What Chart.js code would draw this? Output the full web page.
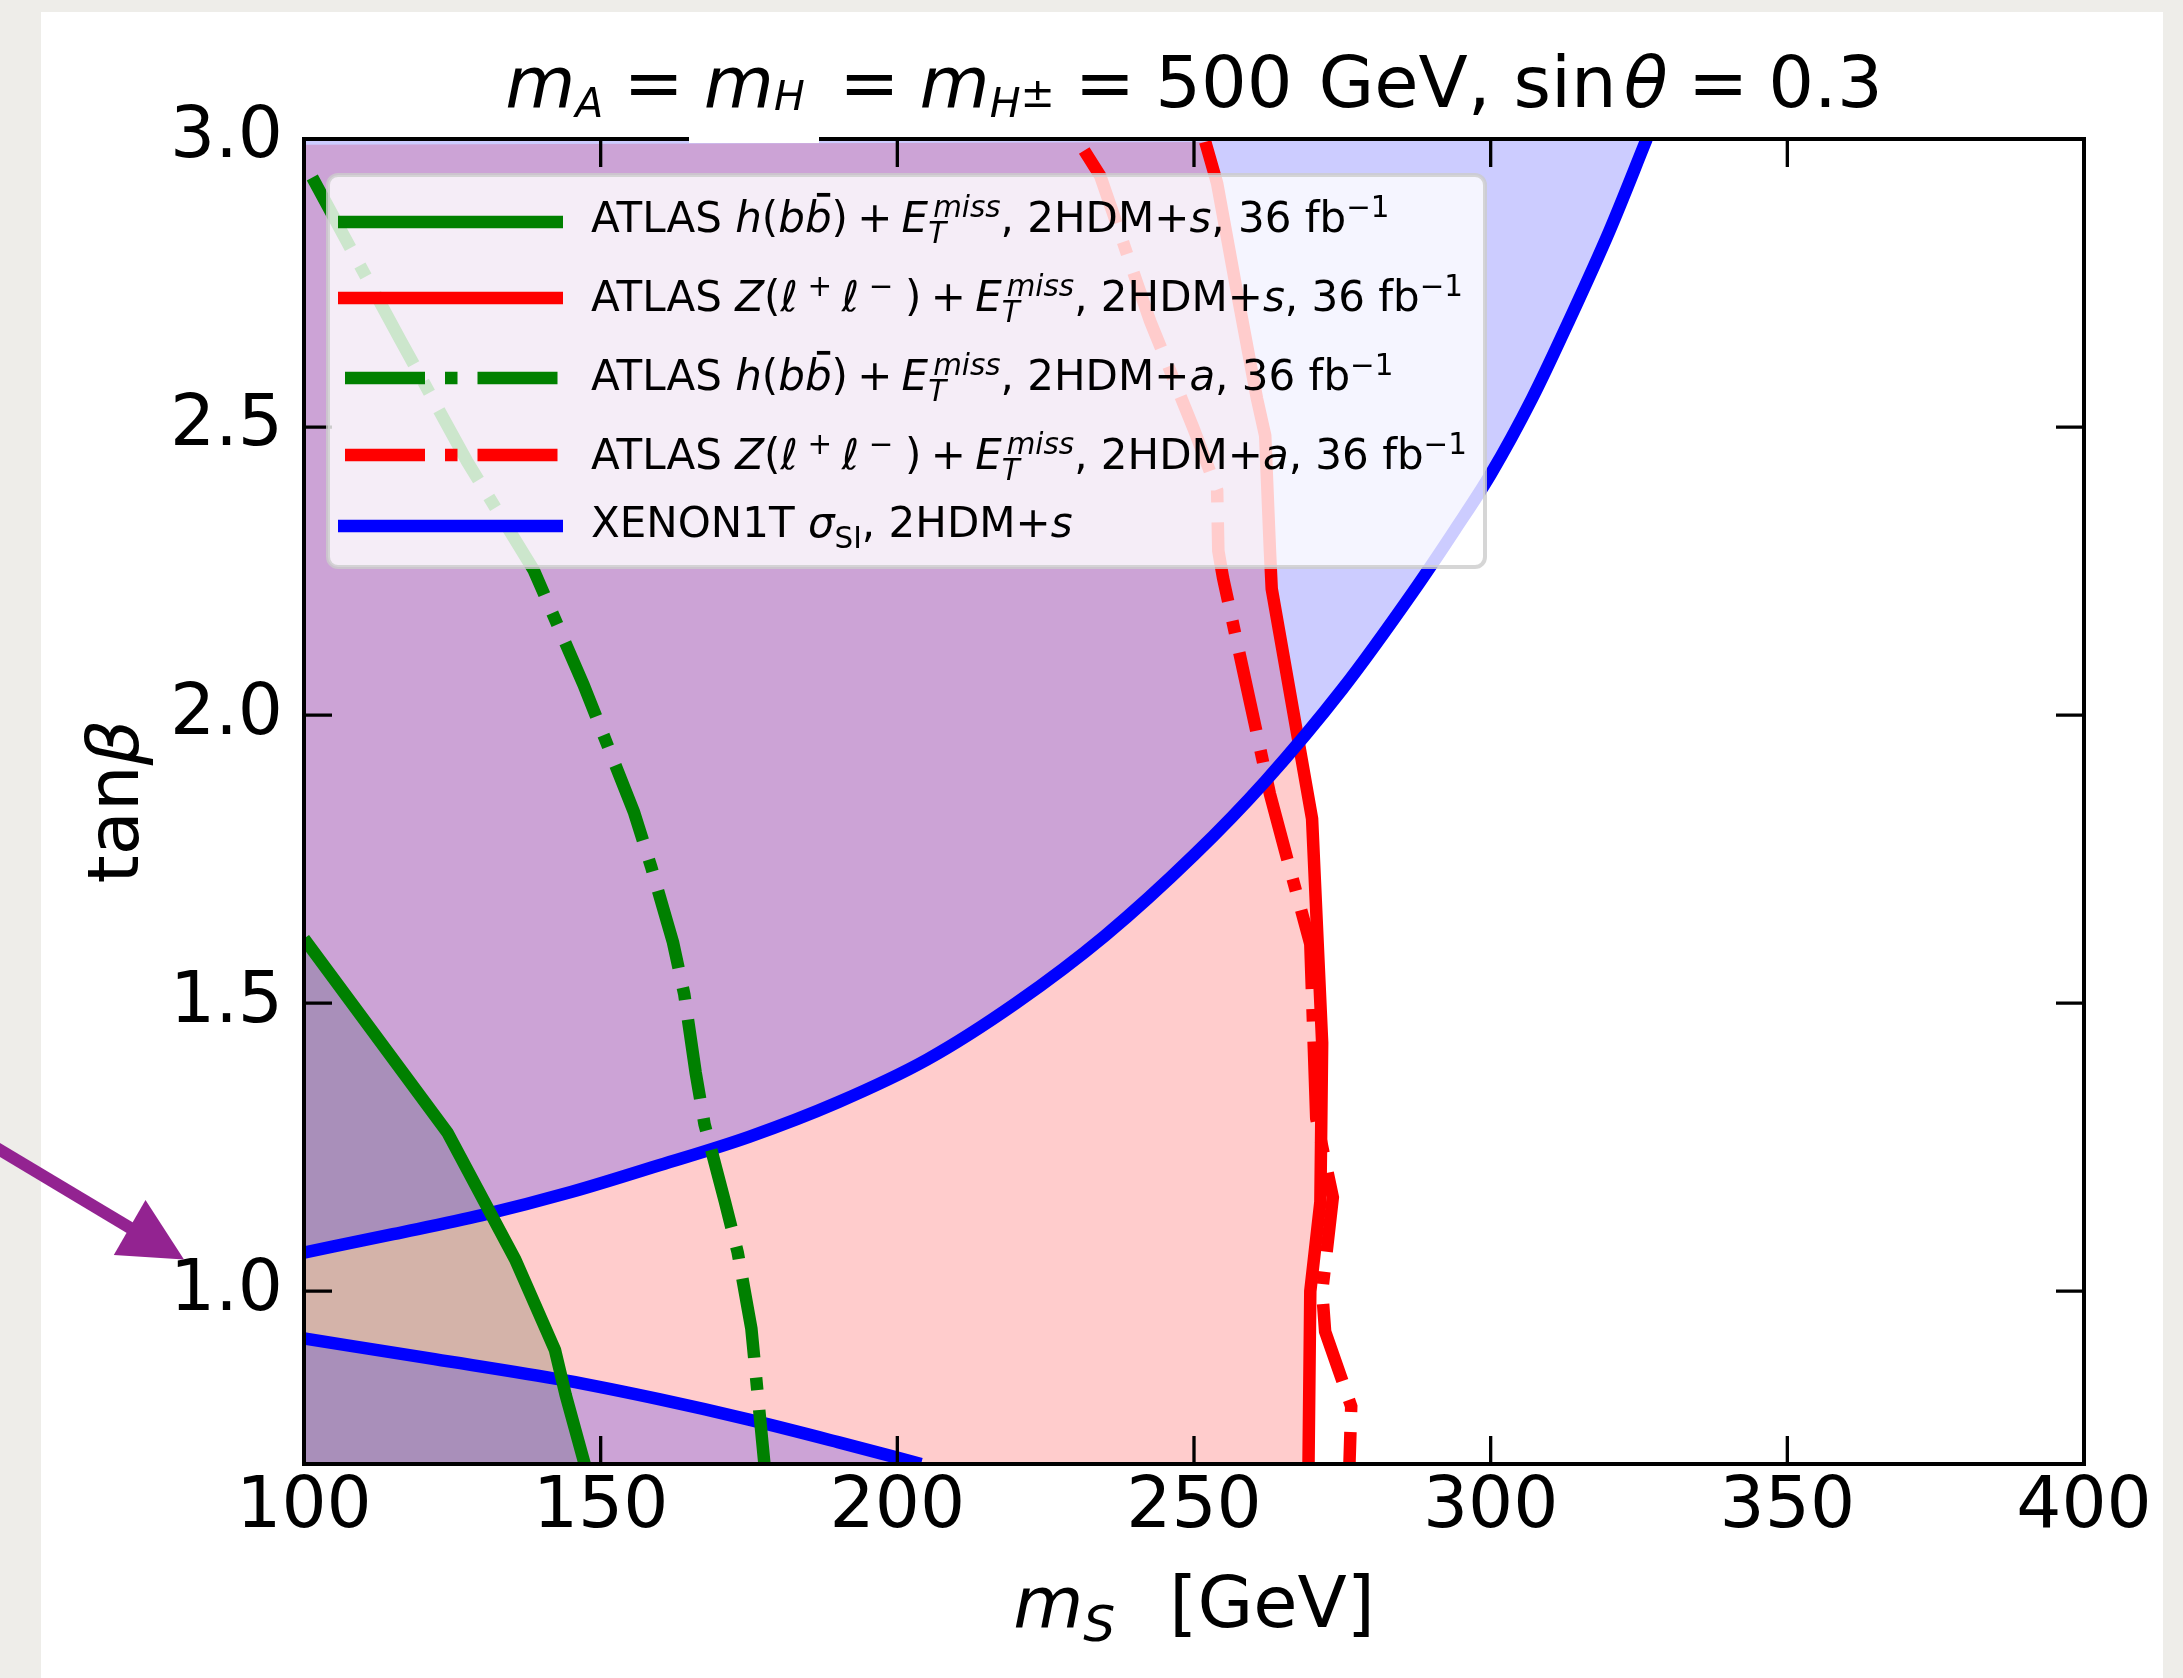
<!DOCTYPE html>
<html>
<head>
<meta charset="utf-8">
<title>tanβ vs m_S exclusion</title>
<script src="https://cdn.jsdelivr.net/npm/chart.js@4.4.1/dist/chart.umd.min.js"></script>
<style>
  html, body { margin: 0; padding: 0; overflow: hidden; background: #eeede9; }
  #plot { position: absolute; left: 0; top: 0; }
</style>
</head>
<body>
<canvas id="plot" width="2183" height="1678"></canvas>
<script>
// axis ranges and ticks
const msMin = 100, msMax = 400;
const tbMin = 0.7, tbMax = 3.0;
const xTicks = [100, 150, 200, 250, 300, 350, 400];
const yTicks = [1.0, 1.5, 2.0, 2.5, 3.0];

// ATLAS h(bb)+MET, 2HDM+s (excluded to the left)
const hbbS_ms = [100, 124.2, 135.6, 142.3, 144.1, 147.3];
const hbbS_tb = [1.612, 1.275, 1.055, 0.898, 0.82, 0.70];

// ATLAS Z(ll)+MET, 2HDM+s (excluded to the left)
const zllS_ms = [251.9, 253.9, 257.2, 260.6, 262.0, 262.8, 263.1, 269.9, 271.6, 271.3, 269.6, 269.3];
const zllS_tb = [2.995, 2.923, 2.737, 2.55, 2.485, 2.285, 2.219, 1.82, 1.431, 1.155, 1.0, 0.70];
const zllS_top = 2.99;

// ATLAS h(bb)+MET, 2HDM+a
const hbbA_ms = [101.4, 116.3, 127.5, 138.7, 147.1, 155.6, 158.5, 162.2, 164.1, 166.0, 167.5, 170.9, 173.1, 175.4, 177.6];
const hbbA_tb = [2.933, 2.65, 2.44, 2.252, 2.053, 1.832, 1.737, 1.605, 1.515, 1.38, 1.29, 1.157, 1.067, 0.935, 0.70];

// ATLAS Z(ll)+MET, 2HDM+a
const zllA_ms = [231.5, 234.2, 242.6, 249.9, 253.9, 254.1, 254.9, 259.5, 262.8, 265.7, 269.6, 270.6, 273.4, 271.6, 272.1, 276.5, 276.2];
const zllA_tb = [2.98, 2.936, 2.684, 2.498, 2.39, 2.285, 2.238, 2.02, 1.863, 1.751, 1.603, 1.30, 1.163, 1.0, 0.93, 0.80, 0.70];

// XENON1T sigma_SI, 2HDM+s: upper and lower branch of the limit
const xenonUp_ms = [100, 115, 130, 145, 160, 175, 190, 205, 220, 235, 250, 262, 275, 287, 294, 300, 307, 313, 320, 326.3];
const xenonUp_tb = [1.067, 1.099, 1.132, 1.172, 1.219, 1.268, 1.328, 1.402, 1.50, 1.617, 1.757, 1.885, 2.045, 2.215, 2.322, 2.418, 2.55, 2.68, 2.84, 3.0];
const xenonLo_ms = [100, 122, 144, 160, 175, 190, 204];
const xenonLo_tb = [0.918, 0.882, 0.845, 0.812, 0.777, 0.738, 0.70];

const pts = (xs, ys) => xs.map((x, i) => ({ x: x, y: ys[i] }));

const FAM = '"DejaVu Sans"';
const LW = 12.5;
const DASHDOT = [80, 20, 12.5, 20];
const GREEN = "#008000", RED = "#ff0000", BLUE = "#0000ff";

function lineSet(label, data, color, dashed, order, extra) {
  return Object.assign({
    label: label,
    data: data,
    showLine: true,
    borderColor: color,
    borderWidth: LW,
    borderDash: dashed ? DASHDOT : [],
    pointRadius: 0,
    pointHoverRadius: 0,
    tension: 0,
    fill: false,
    clip: 0,
    order: order
  }, extra || {});
}

function shapeSet(data, color, order) {
  return {
    data: data,
    showLine: true,
    borderWidth: 0,
    borderColor: "transparent",
    backgroundColor: color,
    pointRadius: 0,
    tension: 0,
    fill: "shape",
    clip: 0,
    order: order
  };
}

const datasets = [
  lineSet("ATLAS h(bb)+MET, 2HDM+s", pts(hbbS_ms, hbbS_tb), GREEN, false, 1),
  lineSet("ATLAS h(bb)+MET, 2HDM+a", pts(hbbA_ms, hbbA_tb), GREEN, true, 2),
  lineSet("XENON1T upper", pts(xenonUp_ms, xenonUp_tb), BLUE, false, 3,
    { cubicInterpolationMode: "monotone", fill: "end", backgroundColor: "rgba(0,0,255,0.2)" }),
  lineSet("XENON1T lower", pts(xenonLo_ms, xenonLo_tb), BLUE, false, 4,
    { cubicInterpolationMode: "monotone", fill: "start", backgroundColor: "rgba(0,0,255,0.2)" }),
  lineSet("ATLAS Z(ll)+MET, 2HDM+s", pts(zllS_ms, zllS_tb), RED, false, 5),
  lineSet("ATLAS Z(ll)+MET, 2HDM+a", pts(zllA_ms, zllA_tb), RED, true, 6),
  // excluded regions
  shapeSet(pts(hbbS_ms, hbbS_tb).concat([{ x: msMin, y: tbMin }]), "rgba(0,60,0,0.17)", 50),
  shapeSet(pts(zllS_ms, zllS_tb).concat([{ x: msMin, y: tbMin }, { x: msMin, y: zllS_top }]), "rgba(255,0,0,0.2)", 60)
];

// --- small mathtext-like text runs ---
function R(t, o) { return Object.assign({ t: t }, o || {}); }
function I(t, o) { return Object.assign({ t: t, it: true }, o || {}); }
function gap(em) { return { gap: em }; }
const SUB = { scale: 0.7, dy: 0.25 };
const SUP = { scale: 0.7, dy: -0.36 };

function drawRich(ctx, parts, size, x, y, align) {
  const items = [];
  let pen = 0, prevStart = 0;
  for (const p of parts) {
    if (p.gap !== undefined) { pen += p.gap * size; continue; }
    const fs = size * (p.scale || 1);
    const font = (p.it ? "italic " : "") + fs.toFixed(1) + "px " + FAM;
    ctx.font = font;
    const w = ctx.measureText(p.t).width;
    const start = p.stack ? prevStart + (p.dx || 0) * size : pen;
    items.push({ p: p, font: font, start: start, w: w, fs: fs });
    if (p.stack) pen = Math.max(pen, start + w);
    else { prevStart = start; pen = start + w; }
  }
  const x0 = align === "center" ? x - pen / 2 : x;
  ctx.textAlign = "left";
  ctx.textBaseline = "alphabetic";
  ctx.fillStyle = "#000";
  for (const it of items) {
    ctx.font = it.font;
    const yy = y + (it.p.dy || 0) * size;
    ctx.fillText(it.p.t, x0 + it.start, yy);
    if (it.p.bar) {
      ctx.fillRect(x0 + it.start + 0.45 * it.w, yy - 0.93 * it.fs, 0.5 * it.w, 0.09 * it.fs);
    }
  }
  return pen;
}

const THICK = 0.278;
const titleParts = [
  I("m"), I("A", { scale: 0.57, dy: 0.14 }), gap(THICK), R("="), gap(THICK),
  I("m"), I("H", { scale: 0.57, dy: 0.04 }), gap(THICK + 0.2), R("="), gap(THICK),
  I("m"), I("H", { scale: 0.57, dy: 0.14 }), R("±", { scale: 0.57 }), gap(THICK), R("="), gap(THICK),
  R("500"), gap(0.04), R(" GeV, sin"), gap(0.1), I("θ"), gap(THICK), R("="), gap(THICK), R("0.3")
];
const xLabelParts = [I("m"), I("S", { scale: 0.7, dy: 0.2 }), gap(0.75), R("[GeV]")];
const yLabelParts = [R("tan"), I("β")];

function hbbRow(model) {
  return [R("ATLAS "), I("h"), R("("), I("b"), I("b", { bar: true }), R(")"), gap(0.22), R("+"), gap(0.22),
    I("E"), I("T", SUB), I("miss", Object.assign({ stack: true, dx: 0.12 }, SUP)),
    R(", 2HDM+"), I(model), R(", 36 fb"), R("−1", SUP)];
}
function zllRow(model) {
  return [R("ATLAS "), I("Z"), R("("), I("ℓ"), gap(0.23), R("+", SUP), gap(0.23), I("ℓ"), gap(0.23), R("−", SUP), gap(0.28), R(")"),
    gap(0.22), R("+"), gap(0.22),
    I("E"), I("T", SUB), I("miss", Object.assign({ stack: true, dx: 0.12 }, SUP)),
    R(", 2HDM+"), I(model), R(", 36 fb"), R("−1", SUP)];
}
const legendRows = [
  { parts: hbbRow("s"), color: GREEN, dashed: false },
  { parts: zllRow("s"), color: RED, dashed: false },
  { parts: hbbRow("a"), color: GREEN, dashed: true },
  { parts: zllRow("a"), color: RED, dashed: true },
  { parts: [R("XENON1T "), I("σ"), R("SI", SUB), R(", 2HDM+"), I("s")], color: BLUE, dashed: false }
];

function roundRect(ctx, x, y, w, h, r) {
  ctx.beginPath();
  ctx.moveTo(x + r, y);
  ctx.arcTo(x + w, y, x + w, y + h, r);
  ctx.arcTo(x + w, y + h, x, y + h, r);
  ctx.arcTo(x, y + h, x, y, r);
  ctx.arcTo(x, y, x + w, y, r);
  ctx.closePath();
}

const decor = {
  id: "decor",
  beforeDraw(chart) {
    const ctx = chart.ctx;
    ctx.save();
    ctx.fillStyle = "#eeede9";
    ctx.fillRect(0, 0, chart.width, chart.height);
    ctx.fillStyle = "#ffffff";
    ctx.fillRect(41, 12, 2163 - 41, chart.height - 12);
    ctx.restore();
  },
  afterDatasetsDraw(chart) {
    // frame with inward ticks on all four sides
    const ctx = chart.ctx, a = chart.chartArea;
    const xs = chart.scales.x, ys = chart.scales.y;
    ctx.save();
    ctx.strokeStyle = "#000";
    ctx.lineWidth = 3.3;
    ctx.beginPath();
    for (const v of xTicks) {
      const px = xs.getPixelForValue(v);
      ctx.moveTo(px, a.bottom); ctx.lineTo(px, a.bottom - 28);
      ctx.moveTo(px, a.top); ctx.lineTo(px, a.top + 28);
    }
    for (const v of yTicks) {
      const py = ys.getPixelForValue(v);
      ctx.moveTo(a.left, py); ctx.lineTo(a.left + 28, py);
      ctx.moveTo(a.right, py); ctx.lineTo(a.right - 28, py);
    }
    ctx.stroke();
    ctx.lineWidth = 4;
    ctx.strokeRect(a.left, a.top, a.right - a.left, a.bottom - a.top);
    ctx.restore();
  },
  afterDraw(chart) {
    const ctx = chart.ctx, a = chart.chartArea;
    const cx = (a.left + a.right) / 2;
    ctx.save();

    // legend
    roundRect(ctx, 328, 175, 1485 - 328, 567 - 175, 10);
    ctx.fillStyle = "rgba(255,255,255,0.8)";
    ctx.fill();
    ctx.lineWidth = 4;
    ctx.strokeStyle = "rgba(204,204,204,0.8)";
    ctx.stroke();
    const baselines = [232, 311, 390, 469, 537];
    const handles = [222, 298, 378, 455, 526];
    legendRows.forEach((row, i) => {
      ctx.strokeStyle = row.color;
      ctx.lineWidth = LW;
      ctx.lineCap = "butt";
      ctx.setLineDash(row.dashed ? DASHDOT : []);
      ctx.beginPath();
      if (row.dashed) { ctx.moveTo(345, handles[i]); ctx.lineTo(558, handles[i]); }
      else { ctx.moveTo(338, handles[i]); ctx.lineTo(563, handles[i]); }
      ctx.stroke();
      ctx.setLineDash([]);
      drawRich(ctx, row.parts, 42, 591, baselines[i], "left");
    });

    // title and axis labels
    drawRich(ctx, titleParts, 72, cx, 107, "center");
    drawRich(ctx, xLabelParts, 72, cx, 1627, "center");
    ctx.save();
    ctx.translate(138, (a.top + a.bottom) / 2);
    ctx.rotate(-Math.PI / 2);
    drawRich(ctx, yLabelParts, 72, 0, 0, "center");
    ctx.restore();

    // clear strip under the first m_H of the title
    ctx.fillStyle = "#ffffff";
    ctx.fillRect(689, 122, 130, 21);

    // pointer arrow toward the tanβ = 1 line
    ctx.strokeStyle = "#932391";
    ctx.fillStyle = "#932391";
    ctx.lineWidth = 12;
    ctx.beginPath();
    ctx.moveTo(-10, 1144);
    ctx.lineTo(132, 1229);
    ctx.stroke();
    ctx.beginPath();
    ctx.moveTo(184, 1259.5);
    ctx.lineTo(145.5, 1200);
    ctx.lineTo(113.8, 1255);
    ctx.closePath();
    ctx.fill();

    ctx.restore();
  }
};

const tickFont = { family: "DejaVu Sans", size: 71 };

new Chart(document.getElementById("plot").getContext("2d"), {
  type: "scatter",
  data: { datasets: datasets },
  options: {
    responsive: false,
    animation: false,
    devicePixelRatio: 1,
    events: [],
    layout: { padding: { left: 0, top: 139, right: 99, bottom: 0 } },
    plugins: {
      legend: { display: false },
      tooltip: { enabled: false },
      title: { display: false },
      filler: { drawTime: "beforeDatasetsDraw", propagate: false }
    },
    scales: {
      x: {
        type: "linear",
        min: msMin,
        max: msMax,
        afterBuildTicks: (s) => { s.ticks = xTicks.map((v) => ({ value: v })); },
        afterFit: (s) => { s.height = 1678 - 1464; },
        grid: { display: false, drawTicks: false },
        border: { display: false },
        ticks: { font: tickFont, color: "#000", padding: 2, maxRotation: 0, autoSkip: false,
          callback: (v) => String(v) }
      },
      y: {
        type: "linear",
        min: tbMin,
        max: tbMax,
        afterBuildTicks: (s) => { s.ticks = yTicks.map((v) => ({ value: v })); },
        afterFit: (s) => { s.width = 304; },
        grid: { display: false, drawTicks: false },
        border: { display: false },
        ticks: { font: tickFont, color: "#000", padding: 21, autoSkip: false,
          callback: (v) => Number(v).toFixed(1) }
      }
    }
  },
  plugins: [decor]
});
</script>
</body>
</html>
